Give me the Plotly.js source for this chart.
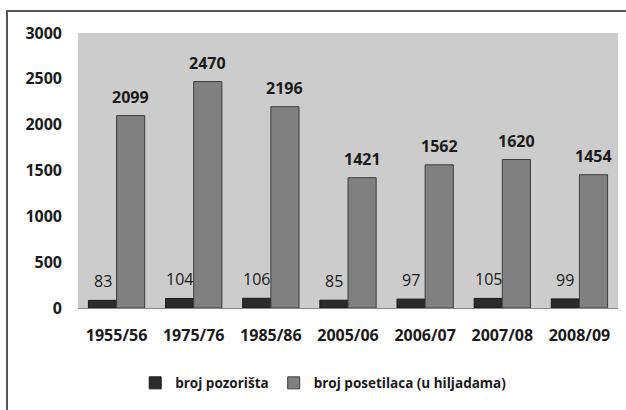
<!DOCTYPE html>
<html>
<head>
<meta charset="utf-8">
<script src="https://cdn.plot.ly/plotly-3.0.1.min.js"></script>
<style>html,body{margin:0;padding:0;background:#fff;}#chart{width:626px;height:410px;}</style>
</head>
<body>
<div id="chart"></div>
<script>
const categories = ["1955/56","1975/76","1985/86","2005/06","2006/07","2007/08","2008/09"];
const theatres = [83,104,106,85,97,105,99];
const visitors = [2099,2470,2196,1421,1562,1620,1454];
const seriesNames = ["broj pozorišta","broj posetilaca (u hiljadama)"];
const yTicks = [0,500,1000,1500,2000,2500,3000];

const FONT = "Open Sans, Liberation Sans, sans-serif";

const traces = [
  {type:"bar", name:seriesNames[0], x:categories, y:theatres,
   marker:{color:"#2b2b2b", line:{color:"#1a1a1a", width:1}}},
  {type:"bar", name:seriesNames[1], x:categories, y:visitors,
   marker:{color:"#808080", line:{color:"#3c3c3c", width:1}}}
];

const annotations = [];
categories.forEach((c,i)=>{
  annotations.push({x:c, y:theatres[i], xref:"x", yref:"y", text:String(theatres[i]),
    showarrow:false, yanchor:"bottom", xshift:-14, yshift:6,
    font:{family:FONT, size:16, color:"#1a1a1a"}});
  annotations.push({x:c, y:visitors[i], xref:"x", yref:"y", text:"<b>"+visitors[i]+"</b>",
    showarrow:false, yanchor:"bottom", xshift:14, yshift:6,
    font:{family:FONT, size:16, color:"#1a1a1a"}});
});

const layout = {
  width:626, height:410,
  margin:{l:78, r:8, t:33, b:102},
  paper_bgcolor:"#ffffff",
  plot_bgcolor:"#cccccc",
  barmode:"group",
  bargap:0.27,
  bargroupgap:0,
  font:{family:FONT, color:"#1a1a1a"},
  xaxis:{type:"category", showgrid:false, showline:true, linecolor:"#8a8a8a", linewidth:1,
    ticks:"", tickfont:{family:FONT, size:16, weight:"bold", color:"#1a1a1a"}, ticklabelstandoff:13},
  yaxis:{range:[0,3000], tickvals:yTicks, showgrid:false, zeroline:false, showline:false,
    ticks:"", tickfont:{family:FONT, size:16, weight:"bold", color:"#1a1a1a"}, ticklabelstandoff:15},
  showlegend:true,
  legend:{orientation:"h", x:0.455, xanchor:"center", y:-0.273, yanchor:"middle",
    font:{family:FONT, size:13.5, weight:"bold", color:"#1a1a1a"}, itemwidth:30, traceorder:"normal"},
  annotations:annotations,
  shapes:[{type:"rect", xref:"paper", yref:"paper", x0:-0.1315, x1:1.1, y0:-0.4, y1:1.08,
    line:{color:"#555555", width:2}, fillcolor:"rgba(0,0,0,0)", layer:"below"}]
};

Plotly.newPlot("chart", traces, layout, {displayModeBar:false, staticPlot:true});
</script>
</body>
</html>
